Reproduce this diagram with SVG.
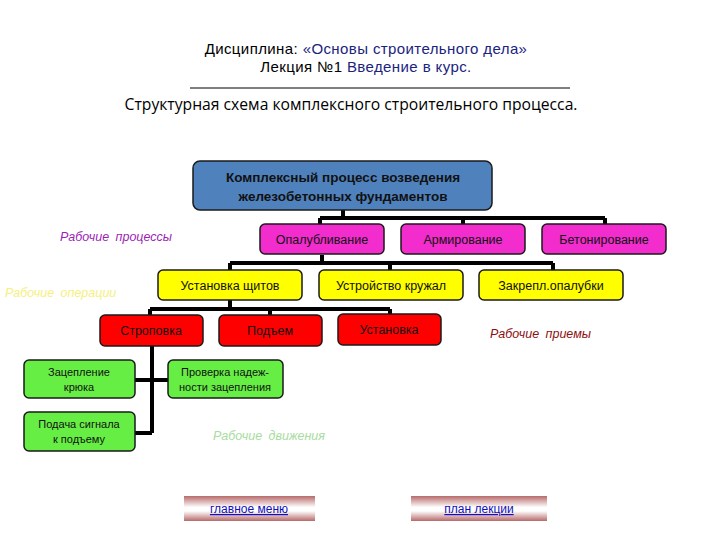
<svg xmlns="http://www.w3.org/2000/svg" width="720" height="540" viewBox="0 0 720 540">
<defs>
<linearGradient id="btn" x1="0" y1="0" x2="0" y2="1">
<stop offset="0" stop-color="#b86a6a"/>
<stop offset="0.45" stop-color="#ffffff"/>
<stop offset="0.6" stop-color="#ffffff"/>
<stop offset="1" stop-color="#b86a6a"/>
</linearGradient>
</defs>
<style>
text{font-family:"Liberation Sans",Arial,sans-serif;}
.t{font-size:15px;fill:#000;letter-spacing:0.4px;}
.box{stroke:#1a1a1a;stroke-width:1.5;}
.blue{fill:#4f81bd;}
.mag{fill:#f22ccd;}
.yel{fill:#ffff00;}
.red{fill:#ff0000;}
.grn{fill:#66ee44;}
.bt{font-size:12.5px;text-anchor:middle;fill:#111;}
.bs{font-size:11px;text-anchor:middle;fill:#111;}
.lab{font-size:12.5px;font-style:italic;word-spacing:3px;}
.conn{stroke:#000;stroke-width:4;fill:none;}
.lnk{font-size:12px;fill:#1010c0;text-anchor:middle;text-decoration:underline;}
</style>
<rect width="720" height="540" fill="#fff"/>
<g id="header">
<text x="366" y="54" text-anchor="middle" class="t"><tspan>Дисциплина:   </tspan><tspan fill="#1a237e">«Основы строительного дела»</tspan></text>
<text x="366" y="72" text-anchor="middle" class="t"><tspan>Лекция №1   </tspan><tspan fill="#1a237e">Введение в курс.</tspan></text>
<line x1="190" y1="88" x2="570" y2="88" stroke="#000" stroke-width="1"/>
<text x="351" y="110" text-anchor="middle" style="font-family:'Open Sans','Liberation Sans',sans-serif;font-size:15.7px">Структурная схема комплексного строительного процесса.</text>
</g>
<g id="connectors">
<path class="conn" d="M343 210V218M320 218H605M320 218V225M463 218V225M605 218V225"/>
<path class="conn" d="M322 255V263M230 263H553M230 263V270M390 263V270M553 263V270"/>
<path class="conn" d="M230 300V309M150 309H390M150 309V315M270 309V315M390 309V314"/>
<path class="conn" d="M152 346V433M135 380H168M135 433H152"/>
</g>
<g id="n-main"><rect class="box blue" x="193" y="161" width="299" height="49" rx="7"/>
<text x="343" y="182" text-anchor="middle" style="font-size:13.5px;font-weight:bold;fill:#111">Комплексный  процесс возведения</text>
<text x="343" y="201" text-anchor="middle" style="font-size:13.5px;font-weight:bold;fill:#111">железобетонных фундаментов</text></g>
<g id="n-opal"><rect class="box mag" x="260" y="224" width="124" height="30" rx="5"/><text class="bt" x="322" y="244">Опалубливание</text></g>
<g id="n-arm"><rect class="box mag" x="401" y="224" width="124" height="30" rx="5"/><text class="bt" x="463" y="244">Армирование</text></g>
<g id="n-beton"><rect class="box mag" x="542" y="224" width="124" height="30" rx="5"/><text class="bt" x="604" y="244">Бетонирование</text></g>
<g id="n-ust-shit"><rect class="box yel" x="158" y="270" width="144" height="30" rx="5"/><text class="bt" x="230" y="290">Установка щитов</text></g>
<g id="n-kruzhal"><rect class="box yel" x="319" y="270" width="144" height="30" rx="5"/><text class="bt" x="391" y="290">Устройство кружал</text></g>
<g id="n-zakr"><rect class="box yel" x="479" y="270" width="144" height="30" rx="5"/><text class="bt" x="551" y="290">Закрепл.опалубки</text></g>
<g id="n-strop"><rect class="box red" x="100" y="315" width="103" height="31" rx="5"/><text class="bt" x="151" y="335" fill="#800">Строповка</text></g>
<g id="n-podem"><rect class="box red" x="219" y="315" width="103" height="31" rx="5"/><text class="bt" x="270" y="335" fill="#800">Подъем</text></g>
<g id="n-ustan"><rect class="box red" x="338" y="314" width="103" height="31" rx="5"/><text class="bt" x="389" y="334" fill="#800">Установка</text></g>
<g id="n-zacep"><rect class="box grn" x="24" y="360" width="111" height="38" rx="5"/><text class="bs" x="79" y="376">Зацепление</text><text class="bs" x="79" y="391">крюка</text></g>
<g id="n-prov"><rect class="box grn" x="168" y="360" width="115" height="38" rx="5"/><text class="bs" x="225" y="376">Проверка надеж-</text><text class="bs" x="225" y="391">ности зацепления</text></g>
<g id="n-signal"><rect class="box grn" x="24" y="412" width="111" height="39" rx="5"/><text class="bs" x="79" y="428">Подача сигнала</text><text class="bs" x="79" y="443">к подъему</text></g>
<g id="labels">
<text class="lab" x="60" y="241" fill="#9b1fb5">Рабочие  процессы</text>
<text class="lab" x="5" y="297" fill="#f5f080">Рабочие  операции</text>
<text class="lab" x="490" y="338" fill="#8b1010">Рабочие  приемы</text>
<text class="lab" x="213" y="440" fill="#a8dca0">Рабочие  движения</text>
</g>
<g id="btn-menu"><rect x="184" y="496" width="131" height="25" fill="url(#btn)"/><text class="lnk" x="249" y="513">главное меню</text></g>
<g id="btn-plan"><rect x="411" y="496" width="136" height="25" fill="url(#btn)"/><text class="lnk" x="479" y="513">план лекции</text></g>
</svg>
